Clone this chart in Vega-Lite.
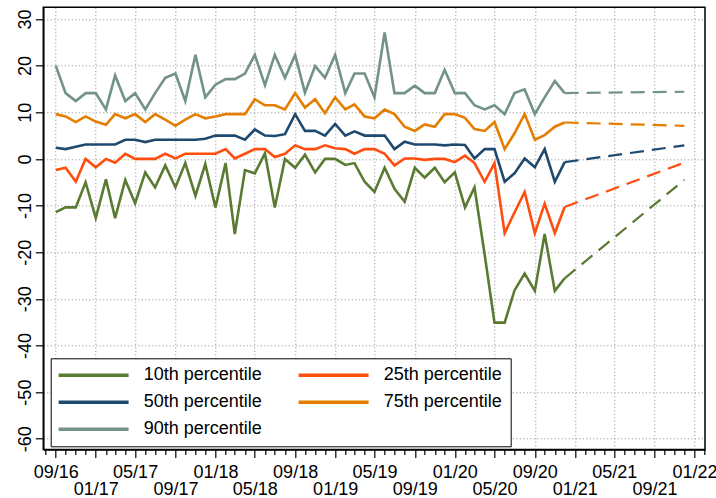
{
  "$schema": "https://vega.github.io/schema/vega-lite/v6.json",
  "width": 661.7,
  "height": 442.2,
  "autosize": {"type": "none"},
  "padding": {"left": 43.3, "top": 7.3, "right": 11, "bottom": 48.5},
  "background": "white",
  "config": {
    "view": {"stroke": "black", "strokeWidth": 1.5},
    "font": "Liberation Sans",
    "legend": {"strokeColor": "black", "fillColor": "white", "cornerRadius": 0},
    "axis": {
      "title": null,
      "domainColor": "black",
      "domainWidth": 1.5,
      "tickColor": "black",
      "tickWidth": 1.2,
      "labelFont": "Liberation Sans",
      "labelFontSize": 18,
      "labelColor": "black",
      "grid": true,
      "gridColor": "#8a8a8a",
      "gridDash": [1, 2.5],
      "gridWidth": 1
    }
  },
  "datasets": {
    "actual": [
      {"d": "2016-09-01", "p10": -11.4, "p25": -2.4, "p50": 2.4, "p75": 9.6, "p90": 20.0},
      {"d": "2016-10-01", "p10": -10.4, "p25": -1.9, "p50": 2.1, "p75": 9.1, "p90": 14.1},
      {"d": "2016-11-01", "p10": -10.4, "p25": -4.9, "p50": 2.6, "p75": 7.9, "p90": 12.4},
      {"d": "2016-12-01", "p10": -5.0, "p25": 0.0, "p50": 3.1, "p75": 9.1, "p90": 14.1},
      {"d": "2017-01-01", "p10": -12.7, "p25": -1.8, "p50": 3.1, "p75": 8.0, "p90": 14.1},
      {"d": "2017-02-01", "p10": -4.4, "p25": 0.0, "p50": 3.1, "p75": 7.3, "p90": 10.6},
      {"d": "2017-03-01", "p10": -12.7, "p25": -0.8, "p50": 3.1, "p75": 9.6, "p90": 17.9},
      {"d": "2017-04-01", "p10": -4.5, "p25": 1.1, "p50": 4.1, "p75": 8.7, "p90": 12.4},
      {"d": "2017-05-01", "p10": -9.5, "p25": 0.0, "p50": 4.1, "p75": 9.6, "p90": 14.1},
      {"d": "2017-06-01", "p10": -2.9, "p25": 0.0, "p50": 3.6, "p75": 7.9, "p90": 10.6},
      {"d": "2017-07-01", "p10": -6.1, "p25": 0.0, "p50": 4.1, "p75": 9.6, "p90": 14.1},
      {"d": "2017-08-01", "p10": -1.4, "p25": 1.1, "p50": 4.1, "p75": 8.4, "p90": 17.4},
      {"d": "2017-09-01", "p10": -6.1, "p25": 0.1, "p50": 4.1, "p75": 7.1, "p90": 18.3},
      {"d": "2017-10-01", "p10": -0.9, "p25": 1.1, "p50": 4.1, "p75": 8.4, "p90": 12.4},
      {"d": "2017-11-01", "p10": -7.9, "p25": 1.1, "p50": 4.1, "p75": 9.6, "p90": 22.3},
      {"d": "2017-12-01", "p10": -1.1, "p25": 1.1, "p50": 4.3, "p75": 8.7, "p90": 13.2},
      {"d": "2018-01-01", "p10": -10.4, "p25": 1.1, "p50": 5.0, "p75": 9.1, "p90": 15.9},
      {"d": "2018-02-01", "p10": -0.9, "p25": 2.1, "p50": 5.0, "p75": 9.6, "p90": 17.1},
      {"d": "2018-03-01", "p10": -16.1, "p25": 0.1, "p50": 5.0, "p75": 9.6, "p90": 17.1},
      {"d": "2018-04-01", "p10": -2.4, "p25": 1.1, "p50": 4.1, "p75": 9.6, "p90": 18.3},
      {"d": "2018-05-01", "p10": -3.1, "p25": 2.1, "p50": 6.3, "p75": 12.8, "p90": 22.3},
      {"d": "2018-06-01", "p10": 1.2, "p25": 2.1, "p50": 5.0, "p75": 11.5, "p90": 15.8},
      {"d": "2018-07-01", "p10": -10.4, "p25": 0.4, "p50": 4.9, "p75": 11.5, "p90": 22.3},
      {"d": "2018-08-01", "p10": 0.0, "p25": 1.1, "p50": 5.3, "p75": 10.6, "p90": 17.4},
      {"d": "2018-09-01", "p10": -1.9, "p25": 2.9, "p50": 9.6, "p75": 14.1, "p90": 22.3},
      {"d": "2018-10-01", "p10": 0.9, "p25": 2.1, "p50": 6.0, "p75": 11.0, "p90": 14.2},
      {"d": "2018-11-01", "p10": -2.9, "p25": 2.1, "p50": 6.0, "p75": 12.8, "p90": 19.9},
      {"d": "2018-12-01", "p10": 0.0, "p25": 2.9, "p50": 5.0, "p75": 9.8, "p90": 17.4},
      {"d": "2019-01-01", "p10": 0.0, "p25": 2.3, "p50": 7.5, "p75": 13.2, "p90": 22.3},
      {"d": "2019-02-01", "p10": -1.3, "p25": 2.1, "p50": 5.0, "p75": 10.6, "p90": 14.1},
      {"d": "2019-03-01", "p10": -0.9, "p25": 1.1, "p50": 5.9, "p75": 11.7, "p90": 18.3},
      {"d": "2019-04-01", "p10": -4.9, "p25": 2.1, "p50": 5.0, "p75": 9.1, "p90": 18.3},
      {"d": "2019-05-01", "p10": -7.1, "p25": 2.1, "p50": 5.0, "p75": 8.7, "p90": 13.2},
      {"d": "2019-06-01", "p10": -1.9, "p25": 1.1, "p50": 5.0, "p75": 10.6, "p90": 27.1},
      {"d": "2019-07-01", "p10": -6.4, "p25": -1.4, "p50": 2.1, "p75": 9.6, "p90": 14.1},
      {"d": "2019-08-01", "p10": -9.2, "p25": 0.1, "p50": 3.7, "p75": 6.9, "p90": 14.1},
      {"d": "2019-09-01", "p10": -1.9, "p25": 0.1, "p50": 3.1, "p75": 6.0, "p90": 15.7},
      {"d": "2019-10-01", "p10": -4.0, "p25": -0.2, "p50": 3.1, "p75": 7.4, "p90": 14.1},
      {"d": "2019-11-01", "p10": -1.9, "p25": 0.0, "p50": 3.1, "p75": 6.9, "p90": 14.1},
      {"d": "2019-12-01", "p10": -5.0, "p25": 0.0, "p50": 2.9, "p75": 9.6, "p90": 19.1},
      {"d": "2020-01-01", "p10": -2.9, "p25": -0.7, "p50": 3.1, "p75": 9.6, "p90": 14.1},
      {"d": "2020-02-01", "p10": -10.4, "p25": 0.7, "p50": 3.0, "p75": 8.8, "p90": 14.1},
      {"d": "2020-03-01", "p10": -6.1, "p25": -0.9, "p50": 0.1, "p75": 6.4, "p90": 11.5},
      {"d": "2020-04-01", "p10": -20.5, "p25": -4.9, "p50": 2.1, "p75": 6.0, "p90": 10.6},
      {"d": "2020-05-01", "p10": -35.1, "p25": -0.9, "p50": 2.1, "p75": 7.9, "p90": 11.5},
      {"d": "2020-06-01", "p10": -35.1, "p25": -15.9, "p50": -4.9, "p75": 2.1, "p90": 9.6},
      {"d": "2020-07-01", "p10": -28.2, "p25": -11.5, "p50": -3.1, "p75": 5.5, "p90": 14.1},
      {"d": "2020-08-01", "p10": -24.6, "p25": -7.1, "p50": 0.1, "p75": 9.6, "p90": 14.9},
      {"d": "2020-09-01", "p10": -28.3, "p25": -15.9, "p50": -1.8, "p75": 4.1, "p90": 9.6},
      {"d": "2020-10-01", "p10": -16.1, "p25": -9.6, "p50": 2.1, "p75": 5.1, "p90": 13.2},
      {"d": "2020-11-01", "p10": -28.3, "p25": -15.9, "p50": -4.9, "p75": 6.9, "p90": 16.7},
      {"d": "2020-12-01", "p10": -25.6, "p25": -10.3, "p50": -0.7, "p75": 7.8, "p90": 14.1}
    ],
    "proj": [
      {"d": "2020-12-01", "p10": -25.6, "p25": -10.3, "p50": -0.7, "p75": 7.8, "p90": 14.1},
      {"d": "2021-12-01", "p10": -4.5, "p25": -0.8, "p50": 2.9, "p75": 7.1, "p90": 14.4}
    ]
  },
  "layer": [
    {
      "data": {"name": "actual"},
      "transform": [{"fold": ["p10", "p25", "p50", "p75", "p90"], "as": ["series", "value"]}],
      "mark": {"type": "line", "strokeWidth": 2.6},
      "encoding": {
        "x": {
          "field": "d",
          "type": "temporal",
          "scale": {
            "type": "utc",
            "nice": false,
            "domain": [
              {"year": 2016, "month": 7, "date": 25, "utc": true},
              {"year": 2022, "month": 2, "date": 2, "utc": true}
            ]
          },
          "axis": {
            "tickCount": {"interval": "month", "step": 1},
            "labelOverlap": false,
            "labelFlush": false,
            "labelPadding": 6,
            "labelLineHeight": 17,
            "labelExpr": "utcmonth(datum.value) % 4 != 0 ? '' : ((((utcyear(datum.value) - 2016) * 12 + utcmonth(datum.value) - 8) / 4) % 2 == 0 ? utcFormat(datum.value, '%m/%y') : ['', utcFormat(datum.value, '%m/%y')])",
            "tickSize": {"condition": {"test": "utcmonth(datum.value) % 4 == 0", "value": 8}, "value": 5},
            "gridOpacity": {"condition": {"test": "utcmonth(datum.value) % 4 == 0", "value": 1}, "value": 0}
          }
        },
        "y": {
          "field": "value",
          "type": "quantitative",
          "scale": {"domain": [-62.3, 32.5], "nice": false, "zero": false},
          "axis": {
            "values": [-60, -55, -50, -45, -40, -35, -30, -25, -20, -15, -10, -5, 0, 5, 10, 15, 20, 25, 30],
            "labelExpr": "datum.value % 10 == 0 ? toString(datum.value) : ''",
            "labelAngle": -90,
            "labelAlign": "center",
            "labelBaseline": "alphabetic",
            "labelPadding": 5,
            "labelOverlap": false,
            "tickSize": {"condition": {"test": "datum.value % 10 == 0", "value": 8}, "value": 6}
          }
        },
        "color": {
          "field": "series",
          "type": "nominal",
          "scale": {
            "domain": ["p10", "p25", "p50", "p75", "p90"],
            "range": ["#5a7a32", "#ff4d0d", "#1f4a70", "#e37e00", "#72928a"]
          },
          "legend": {
            "orient": "none",
            "direction": "horizontal",
            "legendX": 7.4,
            "legendY": 351,
            "title": null,
            "columns": 2,
            "labelExpr": "replace(datum.label, 'p', '') + 'th percentile'",
            "symbolType": "M-1.3,0H8.7",
            "symbolSize": 196,
            "symbolStrokeWidth": 3.5,
            "labelFontSize": 18,
            "labelFont": "Liberation Sans",
            "labelColor": "black",
            "labelOffset": 67,
            "labelLimit": 300,
            "rowPadding": 9,
            "columnPadding": 28,
            "padding": 8
          }
        }
      }
    },
    {
      "data": {"name": "proj"},
      "transform": [{"fold": ["p10", "p25", "p50", "p75", "p90"], "as": ["series", "value"]}],
      "mark": {"type": "line", "strokeWidth": 2.2, "strokeDash": [14, 8]},
      "encoding": {
        "x": {"field": "d", "type": "temporal"},
        "y": {"field": "value", "type": "quantitative"},
        "color": {"field": "series", "type": "nominal", "legend": null}
      }
    }
  ]
}
